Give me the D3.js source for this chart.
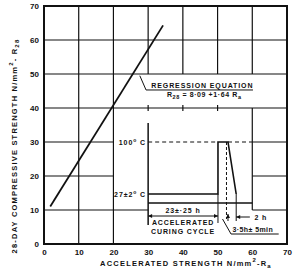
<!DOCTYPE html>
<html>
<head>
<meta charset="utf-8">
<script src="https://cdn.jsdelivr.net/npm/d3@7"></script>
<style>
  body { margin: 0; background: #fff; }
  svg { display: block; font-family: 'Liberation Sans', Arial, sans-serif; font-weight: bold; }
  .tick text { font-size: 8px; }
  .title { font-size: 7.5px; letter-spacing: 1.2px; }
  .note { font-size: 7px; letter-spacing: 0.9px; }
</style>
</head>
<body>
<div id="chart"></div>
<script>
// axis ticks
const xTicks = [0, 10, 20, 30, 40, 50, 60, 70]
const yTicks = [0, 10, 20, 30, 40, 50, 60, 70]

// regression line R28 = 8.09 + 1.64 Ra, drawn over the measured range
const regRa = [1.8, 34.3]
const regR28 = [11.0, 64.3]

// grid pieces that are not hidden by the inset: [value, from, to]
const vGrid = [[10, 0, 70], [20, 0, 70], [30, 50, 70], [40, 50, 70], [50, 50, 70], [60, 50, 70], [60, 10, 40]]
const hGrid = [[10, 0, 30], [20, 0, 20], [30, 0, 20], [40, 0, 70], [50, 0, 70], [60, 0, 70],
               [30, 60, 70], [20, 60, 70], [10, 60, 70]]
const gridTicks = [30, 40, 50]

// accelerated curing cycle (schematic inset): hours vs temperature
const cycleHours = [0, 23, 23, 26.3, 29]
const cycleTemps = [27, 27, 100, 100, 27]

const W = 300, H = 270
const svg = d3.select('#chart').append('svg').attr('width', W).attr('height', H)

const x = d3.scaleLinear().domain([0, 70]).range([44, 287])
const y = d3.scaleLinear().domain([0, 70]).range([244, 6])

// grid
const grid = svg.append('g').attr('stroke', '#111').attr('stroke-width', 1.2)
grid.selectAll('.v').data(vGrid).join('line')
  .attr('x1', d => x(d[0])).attr('x2', d => x(d[0]))
  .attr('y1', d => y(d[1])).attr('y2', d => y(d[2]))
grid.selectAll('.h').data(hGrid).join('line')
  .attr('y1', d => y(d[0])).attr('y2', d => y(d[0]))
  .attr('x1', d => x(d[1])).attr('x2', d => x(d[2]))
grid.selectAll('.t').data(gridTicks).join('line')
  .attr('x1', d => x(d)).attr('x2', d => x(d))
  .attr('y1', y(40) - 3).attr('y2', y(40) + 3)

// frame
svg.append('rect')
  .attr('x', x(0)).attr('y', y(70))
  .attr('width', x(70) - x(0)).attr('height', y(0) - y(70))
  .attr('fill', 'none').attr('stroke', '#111').attr('stroke-width', 2)

// axes (labels only)
const axisX = d3.axisBottom(x).tickValues(xTicks).tickSize(0).tickPadding(5)
const axisY = d3.axisLeft(y).tickValues(yTicks).tickSize(0).tickPadding(5)
svg.append('g').attr('transform', `translate(0,${y(0)})`).call(axisX)
  .call(g => g.select('.domain').remove())
svg.append('g').attr('transform', `translate(${x(0)},0)`).call(axisY)
  .call(g => g.select('.domain').remove())
svg.selectAll('.tick text').attr('fill', '#111').attr('font-family', "'Liberation Sans', Arial, sans-serif")

// axis titles
const xt = svg.append('text').attr('class', 'title')
  .attr('x', 186).attr('y', 266).attr('text-anchor', 'middle').attr('fill', '#111')
xt.append('tspan').text('ACCELERATED STRENGTH  N/mm')
xt.append('tspan').attr('dy', -4).attr('font-size', 6).text('2')
xt.append('tspan').attr('dy', 4).text('-R')
xt.append('tspan').attr('dy', 1.5).attr('font-size', 6).text('a')

const yt = svg.append('text').attr('class', 'title')
  .attr('transform', 'translate(17,146) rotate(-90)').attr('text-anchor', 'middle').attr('fill', '#111')
yt.append('tspan').text('28-DAY COMPRESSIVE STRENGTH  N/mm')
yt.append('tspan').attr('dy', -4).attr('font-size', 6).text('2')
yt.append('tspan').attr('dy', 4).text('- R')
yt.append('tspan').attr('dy', 1.5).attr('font-size', 6).text('28')

// regression line
svg.append('path')
  .datum(d3.zip(regRa, regR28))
  .attr('d', d3.line().x(d => x(d[0])).y(d => y(d[1])))
  .attr('fill', 'none').attr('stroke', '#111').attr('stroke-width', 1.8)

// regression label with leader
svg.append('path')
  .attr('d', `M${x(27.6)},${y(49.5)} L${x(29.4)},${y(45.3)} L${x(60.2)},${y(45.3)}`)
  .attr('fill', 'none').attr('stroke', '#111').attr('stroke-width', 1)
svg.append('text').attr('class', 'note').attr('x', x(30.9)).attr('y', y(46)).attr('fill', '#111')
  .text('REGRESSION  EQUATION')
const eq = svg.append('text').attr('class', 'note').attr('x', x(35.4)).attr('y', y(43.2)).attr('fill', '#111')
  .style('letter-spacing', '0.6px')
eq.append('tspan').text('R')
eq.append('tspan').attr('dy', 1.5).attr('font-size', 5.5).text('28')
eq.append('tspan').attr('dy', -1.5).text('  = 8·09 +1·64 R')
eq.append('tspan').attr('dy', 1.5).attr('font-size', 5.5).text('a')

// ---- inset: curing cycle ----
const t = d3.scaleLinear().domain([0, 34.3]).range([x(30), x(60)])
const temp = d3.scaleLinear().domain([27, 100]).range([194, y(30)])
const base = 203
const ink = svg.append('g').attr('stroke', '#111').attr('fill', 'none')

// inset axis and time baseline
ink.append('line').attr('x1', t(0)).attr('x2', t(0)).attr('y1', 123).attr('y2', 225).attr('stroke-width', 1.5)
ink.append('line').attr('x1', t(0)).attr('x2', t(34.3)).attr('y1', base).attr('y2', base).attr('stroke-width', 1.3)

// 100 C dashed reference
ink.append('line').attr('x1', t(0)).attr('x2', t(23)).attr('y1', temp(100)).attr('y2', temp(100))
  .attr('stroke-width', 1.2).attr('stroke-dasharray', '4,3')
ink.append('line').attr('x1', t(26.3)).attr('x2', t(34.3)).attr('y1', temp(100)).attr('y2', temp(100))
  .attr('stroke-width', 1.2).attr('stroke-dasharray', '4,3')

// cycle
ink.append('path').datum(d3.zip(cycleHours, cycleTemps))
  .attr('d', d3.line().x(d => t(d[0])).y(d => temp(d[1])))
  .attr('stroke-width', 1.6)

// extension lines and dimension marks
ink.append('line').attr('x1', t(23)).attr('x2', t(23)).attr('y1', temp(27)).attr('y2', 223).attr('stroke-width', 1)
ink.append('line').attr('x1', t(29)).attr('x2', t(29)).attr('y1', temp(27)).attr('y2', 221).attr('stroke-width', 1)
ink.append('line').attr('x1', t(25.8)).attr('x2', t(25.8)).attr('y1', temp(100)).attr('y2', 219)
  .attr('stroke-width', 1).attr('stroke-dasharray', '3,2')

function arrow(x0, y0, dir) {
  ink.append('path')
    .attr('d', dir === 'r' ? `M${x0},${y0} l-4,-2 l0,4 z`
      : dir === 'l' ? `M${x0},${y0} l4,-2 l0,4 z`
      : `M${x0},${y0} l-2,4 l4,0 z`)
    .attr('fill', '#111').attr('stroke', 'none')
}
ink.append('line').attr('x1', t(0)).attr('x2', t(23)).attr('y1', 216).attr('y2', 216).attr('stroke-width', 1)
arrow(t(0), 216, 'l'); arrow(t(23), 216, 'r')
ink.append('line').attr('x1', t(29)).attr('x2', t(33.5)).attr('y1', 217).attr('y2', 217).attr('stroke-width', 1)
arrow(t(29), 217, 'l')
arrow(t(26.3), 214, 'u')
ink.append('line').attr('x1', t(26.3)).attr('x2', t(26.3)).attr('y1', 214).attr('y2', 221).attr('stroke-width', 1)
ink.append('path').attr('d', `M${t(24.5)},219 L${t(27.3)},234 L${t(43)},234`).attr('stroke-width', 1)

// inset texts
const note = (tx, ty, s, anchor) => svg.append('text').attr('class', 'note')
  .attr('x', tx).attr('y', ty).attr('text-anchor', anchor || 'start').attr('fill', '#111').text(s)
note(t(11.5), 213, '23±·25 h', 'middle')
note(t(11.5), 225, 'ACCELERATED', 'middle')
note(t(11.5), 234, 'CURING CYCLE', 'middle')
note(t(35), 220, '2 h')
note(t(27.8), 232, '3·5h± 5min').style('letter-spacing', '0.4px')

const c1 = note(146, temp(100) + 3, '100', 'end')
c1.text('100').append('tspan').attr('dy', -3).attr('font-size', 5).text('o')
c1.append('tspan').attr('dy', 3).text(' C')
const c2 = note(146, temp(27) + 3, '27±2', 'end')
c2.text('27±2').append('tspan').attr('dy', -3).attr('font-size', 5).text('o')
c2.append('tspan').attr('dy', 3).text(' C')
</script>
</body>
</html>
